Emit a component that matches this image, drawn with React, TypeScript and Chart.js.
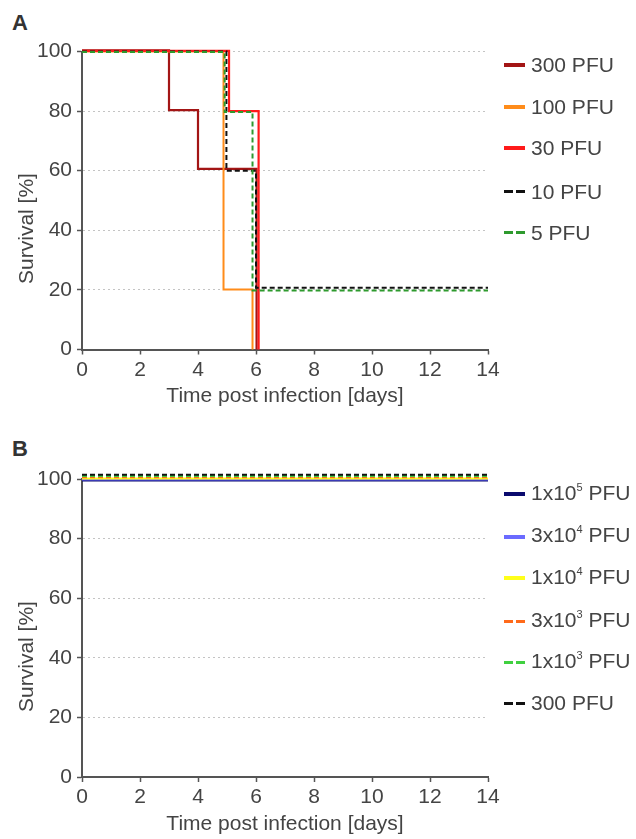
import React, { useEffect, useRef } from 'react';
import { Chart, registerables } from 'chart.js';

Chart.register(...registerables);

const FONT = '"Liberation Sans", Arial, sans-serif';
const TEXT = '#444444';

const xTicks = [0, 2, 4, 6, 8, 10, 12, 14];
const yTicks = [0, 20, 40, 60, 80, 100];
const xTitle = 'Time post infection [days]';
const yTitle = 'Survival [%]';

// Panel A — Kaplan-Meier steps (day of event, survival after event)
const a300Days = [0, 3, 4, 6.02];
const a300Surv = [100.4, 80.3, 60.6, 0];
const a100Days = [0, 4.88, 5.88];
const a100Surv = [100, 20.1, 0];
const a30Days = [0, 5.07, 6.09];
const a30Surv = [100.2, 80, 0];
const a10Days = [0, 4.98, 6.0, 14];
const a10Surv = [100, 60, 20.7, 20.7];
const a5Days = [0, 4.92, 5.88, 14];
const a5Surv = [99.8, 79.7, 19.8, 19.8];
const aLabels = ['300 PFU', '100 PFU', '30 PFU', '10 PFU', '5 PFU'];

// Panel B — no deaths
const bDays = [0, 14];
const b1e5Surv = [99.5, 99.5];
const b3e4Surv = [99.8, 99.8];
const b1e4Surv = [100.2, 100.2];
const b3e3Surv = [100.6, 100.6];
const b1e3Surv = [101.0, 101.0];
const b300Surv = [101.4, 101.4];
const bLabelBase = ['1x10', '3x10', '1x10', '3x10', '1x10', '300'];
const bLabelExp = ['5', '4', '4', '3', '3', ''];

type Series = { label: string; days: number[]; surv: number[]; color: string; dash: boolean; width: number; order: number };

const seriesA: Series[] = [
  { label: aLabels[0], days: a300Days, surv: a300Surv, color: '#a31515', dash: false, width: 2.2, order: 4 },
  { label: aLabels[1], days: a100Days, surv: a100Surv, color: '#ff8c1a', dash: false, width: 2, order: 3 },
  { label: aLabels[2], days: a30Days, surv: a30Surv, color: '#ff1a1a', dash: false, width: 2.2, order: 2 },
  { label: aLabels[3], days: a10Days, surv: a10Surv, color: '#111111', dash: true, width: 2, order: 1 },
  { label: aLabels[4], days: a5Days, surv: a5Surv, color: '#2e9a2e', dash: true, width: 2, order: 0 },
];

const bColors = ['#0a0a6e', '#6b6bff', '#ffff1a', '#ff6a1a', '#40d040', '#111111'];
const bDash = [false, false, false, true, true, true];
const bSurvs = [b1e5Surv, b3e4Surv, b1e4Surv, b3e3Surv, b1e3Surv, b300Surv];
const seriesB: Series[] = bSurvs.map((s, i) => ({
  label: bLabelBase[i] + (bLabelExp[i] ? '^' + bLabelExp[i] : '') + ' PFU',
  days: bDays,
  surv: s,
  color: bColors[i],
  dash: bDash[i],
  width: 2,
  order: 5 - i,
}));

function makeConfig(series: Series[], padTop: number, xAxisH: number): any {
  const font = { family: FONT, size: 21 };
  return {
    type: 'line',
    data: {
      datasets: series.map((s) => ({
        label: s.label,
        data: s.days.map((d, i) => ({ x: d, y: s.surv[i] })),
        borderColor: s.color,
        backgroundColor: s.color,
        borderWidth: s.width,
        borderDash: s.dash ? [5, 3] : [],
        stepped: 'before',
        pointRadius: 0,
        fill: false,
        clip: false,
        order: s.order,
      })),
    },
    options: {
      animation: false,
      responsive: false,
      layout: { padding: { top: padTop, right: 22, left: 0, bottom: 0 } },
      plugins: { legend: { display: false }, tooltip: { enabled: false } },
      scales: {
        x: {
          type: 'linear',
          min: 0,
          max: 14,
          afterBuildTicks: (sc: any) => {
            sc.ticks = xTicks.map((v) => ({ value: v }));
          },
          afterFit: (sc: any) => {
            sc.height = xAxisH;
          },
          grid: { drawOnChartArea: false, drawTicks: true, tickLength: 5, tickColor: '#555', tickWidth: 1.5 },
          border: { color: '#555', width: 2 },
          ticks: { font, color: TEXT, padding: 3, maxRotation: 0, autoSkip: false },
          title: { display: true, text: xTitle, font, color: TEXT, padding: { top: 0, bottom: 2 } },
        },
        y: {
          type: 'linear',
          min: 0,
          max: 100,
          afterBuildTicks: (sc: any) => {
            sc.ticks = yTicks.map((v) => ({ value: v }));
          },
          afterFit: (sc: any) => {
            sc.width = 82;
          },
          grid: { color: '#c4c4c4', lineWidth: 1, tickLength: 5, tickColor: '#555', tickWidth: 1.5 },
          border: { color: '#555', width: 2, dash: [2, 3] },
          ticks: { font, color: TEXT, padding: 5 },
        },
      },
    },
  };
}

function ChartCanvas({ series, top, height, chartTop, chartBottom }: { series: Series[]; top: number; height: number; chartTop: number; chartBottom: number }) {
  const ref = useRef<HTMLCanvasElement>(null);
  useEffect(() => {
    if (!ref.current) return;
    const chart = new Chart(ref.current, makeConfig(series, chartTop - top, top + height - chartBottom));
    return () => chart.destroy();
  }, []);
  return (
    <canvas
      ref={ref}
      width={510}
      height={height}
      style={{ position: 'absolute', left: 0, top, width: 510, height }}
    />
  );
}

function LegendSample({ color, dash }: { color: string; dash: boolean }) {
  if (dash) {
    return (
      <div style={{ display: 'flex', width: 21, justifyContent: 'space-between' }}>
        <div style={{ width: 9, height: 3, background: color }} />
        <div style={{ width: 9, height: 3, background: color }} />
      </div>
    );
  }
  return <div style={{ width: 21, height: 4, background: color }} />;
}

function LegendItem({ center, color, dash, children }: { center: number; color: string; dash: boolean; children: any }) {
  return (
    <div
      style={{
        position: 'absolute',
        left: 504,
        top: center - 13,
        height: 26,
        display: 'flex',
        alignItems: 'center',
        whiteSpace: 'nowrap',
      }}
    >
      <LegendSample color={color} dash={dash} />
      <span style={{ marginLeft: 6, fontFamily: FONT, fontSize: 21, color: TEXT, lineHeight: '26px' }}>{children}</span>
    </div>
  );
}

function YTitle({ cx, cy }: { cx: number; cy: number }) {
  return (
    <div
      style={{
        position: 'absolute',
        left: cx - 100,
        top: cy - 10.5,
        width: 200,
        height: 21,
        lineHeight: '21px',
        textAlign: 'center',
        fontFamily: FONT,
        fontSize: 21,
        color: TEXT,
        transform: 'rotate(-90deg)',
        transformOrigin: '50% 50%',
        whiteSpace: 'nowrap',
      }}
    >
      {yTitle}
    </div>
  );
}

function PanelLetter({ text, top }: { text: string; top: number }) {
  return (
    <div
      style={{
        position: 'absolute',
        left: 12,
        top,
        lineHeight: '22px',
        fontFamily: FONT,
        fontSize: 22,
        fontWeight: 'bold',
        color: '#333',
      }}
    >
      {text}
    </div>
  );
}

const legendACenters = [65, 106.7, 148.3, 191.7, 232.7];
const legendBCenters = [494.3, 536.7, 578.3, 621, 662.3, 703];

export default function App() {
  useEffect(() => {
    document.body.style.margin = '0';
  }, []);
  return (
    <div style={{ position: 'absolute', left: 0, top: 0, width: 636, height: 839, background: '#fff', overflow: 'hidden' }}>
      <PanelLetter text="A" top={12} />
      <PanelLetter text="B" top={438} />
      <ChartCanvas series={seriesA} top={0} height={411} chartTop={51.5} chartBottom={349.5} />
      <ChartCanvas series={seriesB} top={423} height={416} chartTop={479} chartBottom={777} />
      <YTitle cx={24.5} cy={228} />
      <YTitle cx={24.5} cy={656} />
      {seriesA.map((s, i) => (
        <LegendItem key={'a' + i} center={legendACenters[i]} color={s.color} dash={s.dash}>
          {s.label}
        </LegendItem>
      ))}
      {seriesB.map((s, i) => (
        <LegendItem key={'b' + i} center={legendBCenters[i]} color={s.color} dash={s.dash}>
          {bLabelBase[i]}
          {bLabelExp[i] ? (
            <span style={{ fontSize: 11, position: 'relative', top: -9 }}>{bLabelExp[i]}</span>
          ) : null}
          {' PFU'}
        </LegendItem>
      ))}
    </div>
  );
}
